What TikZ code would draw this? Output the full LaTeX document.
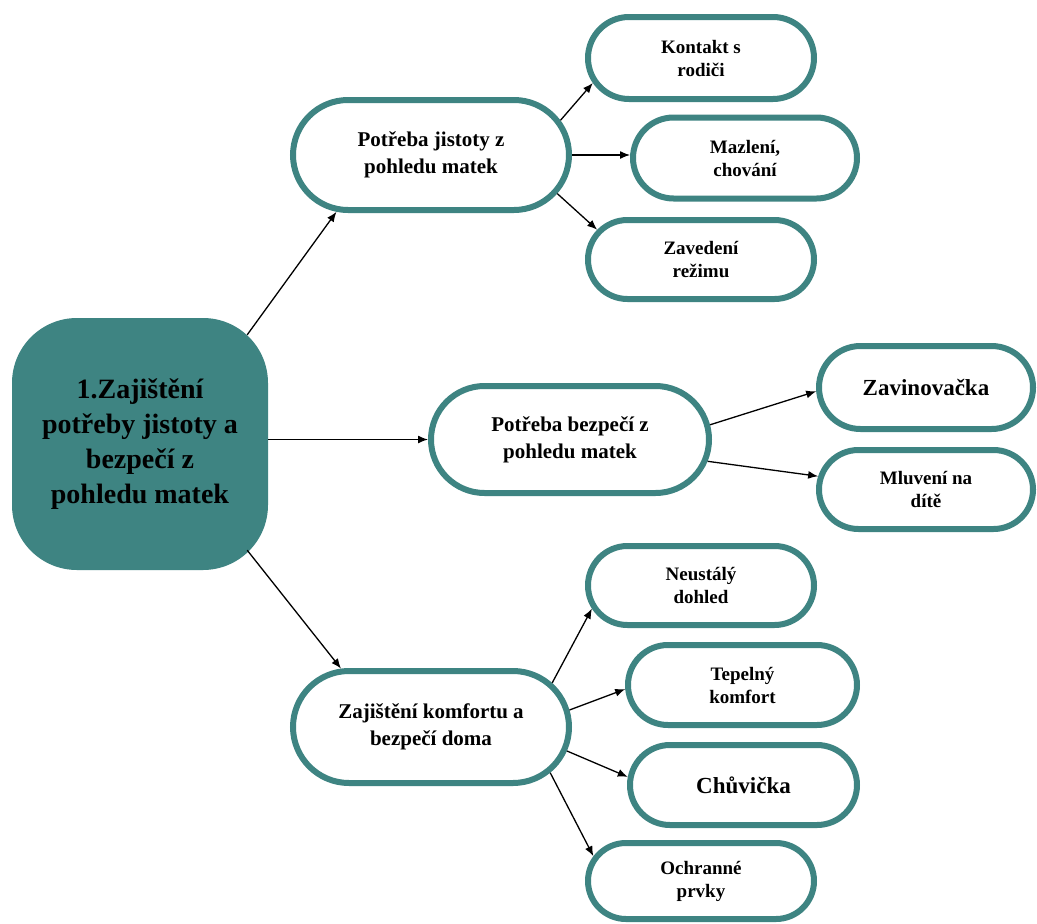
\documentclass[tikz,border=0pt]{standalone}
\usepackage{fontspec}
\setmainfont{Liberation Serif}
\usetikzlibrary{shapes.misc,arrows.meta,calc}
\definecolor{teal1}{RGB}{62,132,130}
\begin{document}
\begin{tikzpicture}[x=1pt,y=-1pt,
  pill/.style={rounded rectangle, draw=teal1, line width=6pt, fill=white, align=center, inner sep=0pt},
  small/.style={font=\fontsize{19}{23}\selectfont\bfseries},
  mid/.style={font=\fontsize{21}{27}\selectfont\bfseries},
  big/.style={font=\fontsize{23}{27}\selectfont\bfseries},
  arr/.style={-{Latex[length=10pt,width=8pt]}, line width=1.3pt, black}]
\useasboundingbox (0,0) rectangle (1037,924);
\fill[white] (0,0) rectangle (1037,924);
\node[fill=teal1, rounded corners=65pt, minimum width=256pt, minimum height=252pt, align=center, font=\fontsize{28}{35}\selectfont\bfseries, inner sep=0pt] (c) at (140,444) {1.Zajištění\\potřeby jistoty a\\bezpečí z\\pohledu matek};
\node[pill, mid, minimum width=276pt, minimum height=110pt] (p1) at (431,155) {Potřeba jistoty z\\pohledu matek};
\node[pill, small, minimum width=226pt, minimum height=82pt] (k) at (701,58) {Kontakt s\\rodiči};
\node[pill, small, minimum width=224pt, minimum height=81pt] (m) at (745,158) {Mazlení,\\chování};
\node[pill, small, minimum width=226pt, minimum height=79pt] (z) at (701,259.5) {Zavedení\\režimu};
\node[pill, mid, minimum width=278pt, minimum height=107pt] (p2) at (570,439.5) {Potřeba bezpečí z\\pohledu matek};
\node[pill, big, minimum width=214pt, minimum height=83pt] (zav) at (926,387.5) {Zavinovačka};
\node[pill, small, minimum width=214pt, minimum height=79pt] (ml) at (926,489.5) {Mluvení na\\dítě};
\node[pill, mid, minimum width=276pt, minimum height=112pt] (p3) at (431,727) {Zajištění komfortu a\\bezpečí doma};
\node[pill, small, minimum width=226pt, minimum height=79pt] (n) at (701,585.5) {Neustálý\\dohled};
\node[pill, small, minimum width=229pt, minimum height=80pt] (t) at (742.5,685) {Tepelný\\komfort};
\node[pill, big, minimum width=227pt, minimum height=80pt] (ch) at (743.5,785) {Chůvička};
\node[pill, small, minimum width=226pt, minimum height=76pt] (o) at (701,881) {Ochranné\\prvky};
\draw[arr] ($(c.north east)+(-21,17)$) -- (p1.211.5);
\draw[arr] (c.east |- p2.west) -- (p2.west);
\draw[arr] ($(c.south east)+(-21,-20)$) -- (p3.147.4);
\draw[arr] (p1.15) -- (k.193.1);
\draw[arr] (p1.east) -- (p1.east -| m.west);
\draw[arr] (p1.343.6) -- (z.164.3);
\draw[arr] (p2.6.3) -- (zav.182.1);
\draw[arr] (p2.351.8) -- (ml.173.7);
\draw[arr] (p3.20.4) -- (n.192.9);
\draw[arr] (p3.7.1) -- (t.182.5);
\draw[arr] (p3.350.3) -- (ch.176);
\draw[arr] (p3.339) -- (o.167);
\end{tikzpicture}
\end{document}
